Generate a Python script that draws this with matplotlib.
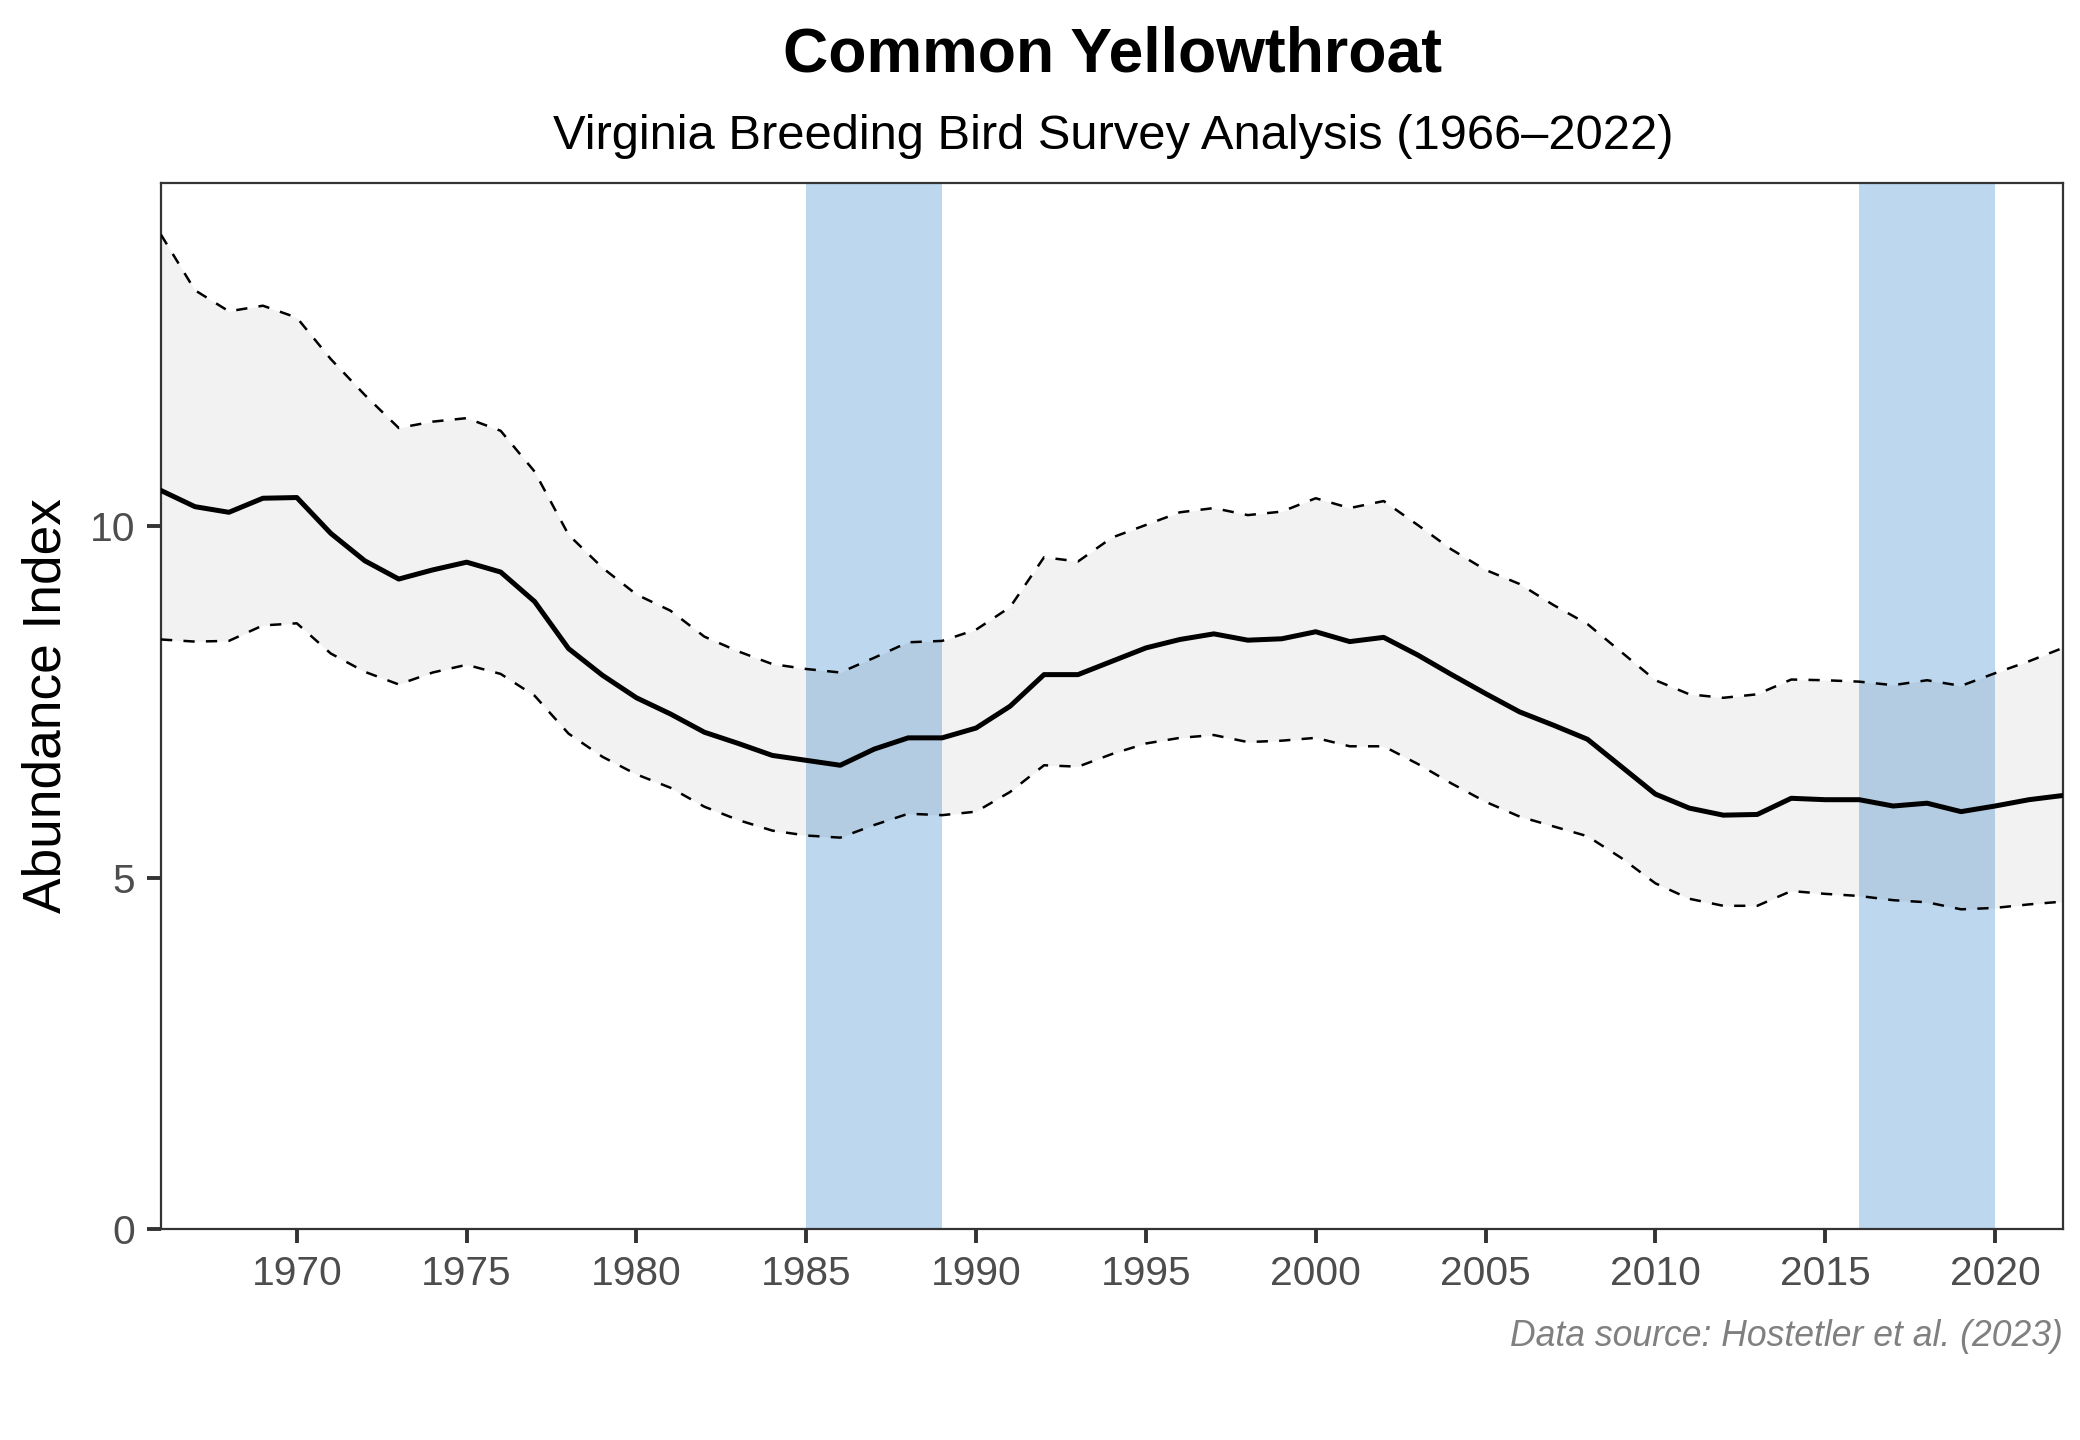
import numpy as np
import matplotlib
matplotlib.use("Agg")
from matplotlib import pyplot as plt

plt.rcParams['font.family'] = ['Liberation Sans', 'DejaVu Sans']

years = np.arange(1966, 2023)

# trend index
index = [10.51, 10.28, 10.20, 10.40, 10.41, 9.90, 9.51, 9.25, 9.38, 9.49,
         9.35, 8.93, 8.26, 7.88, 7.56, 7.33, 7.07, 6.91, 6.74, 6.67,
         6.60, 6.83, 6.99, 6.99, 7.13, 7.44, 7.89, 7.89, 8.08, 8.27,
         8.39, 8.47, 8.38, 8.40, 8.50, 8.36, 8.42, 8.17, 7.89, 7.62,
         7.36, 7.17, 6.97, 6.58, 6.19, 5.99, 5.89, 5.90, 6.13, 6.11,
         6.11, 6.02, 6.06, 5.94, 6.02, 6.11, 6.17]

upper = [14.15, 13.36, 13.06, 13.14, 12.97, 12.38, 11.87, 11.40, 11.49, 11.54,
         11.36, 10.78, 9.88, 9.41, 9.03, 8.80, 8.43, 8.22, 8.04, 7.97,
         7.92, 8.13, 8.35, 8.37, 8.53, 8.85, 9.56, 9.50, 9.84, 10.02,
         10.20, 10.26, 10.16, 10.21, 10.40, 10.26, 10.36, 10.02, 9.67, 9.38,
         9.18, 8.88, 8.61, 8.21, 7.81, 7.61, 7.56, 7.61, 7.82, 7.81,
         7.79, 7.74, 7.81, 7.73, 7.91, 8.08, 8.27]

lower = [8.39, 8.36, 8.37, 8.59, 8.62, 8.19, 7.93, 7.75, 7.92, 8.03,
         7.90, 7.59, 7.05, 6.72, 6.47, 6.28, 6.01, 5.82, 5.67, 5.60,
         5.57, 5.75, 5.91, 5.89, 5.94, 6.22, 6.60, 6.58, 6.76, 6.91,
         6.99, 7.03, 6.93, 6.95, 6.99, 6.87, 6.87, 6.62, 6.34, 6.08,
         5.87, 5.73, 5.59, 5.28, 4.92, 4.70, 4.60, 4.60, 4.81, 4.77,
         4.74, 4.68, 4.65, 4.55, 4.57, 4.62, 4.66]

# shaded periods
periods = [(1985, 1989), (2016, 2020)]

fig = plt.figure(figsize=(10.4, 7.2), dpi=200)
ax = fig.add_axes([0.0774, 0.1465, 0.9144, 0.7264])

for start, end in periods:
    ax.axvspan(start, end, color='#bdd7ee', lw=0, zorder=1)

ax.fill_between(years, lower, upper, color='black', alpha=0.05, lw=0, zorder=2)
ax.plot(years, upper, color='black', lw=0.9, ls=(0, (4.5, 4.5)), zorder=3)
ax.plot(years, lower, color='black', lw=0.9, ls=(0, (4.5, 4.5)), zorder=3)
ax.plot(years, index, color='black', lw=1.8, zorder=4)

ax.set_xlim(1966, 2022)
ax.set_ylim(0, max(upper) * 1.052)
ax.set_xticks(np.arange(1970, 2021, 5))
ax.set_yticks([0, 5, 10])

for s in ax.spines.values():
    s.set_color('#333333')
    s.set_linewidth(0.8)
ax.tick_params(axis='both', direction='out', length=5, width=1.4,
               color='#333333', labelcolor='#4d4d4d', labelsize=14.7, pad=4.3)

ax.set_ylabel('Abundance Index', fontsize=19.2)
ax.yaxis.set_label_coords(-0.047, 0.5)

fig.text(0.535, 0.962, 'Common Yellowthroat', ha='center', va='center',
         fontsize=22.5, fontweight='bold')
fig.text(0.535, 0.905, 'Virginia Breeding Bird Survey Analysis (1966\u20132022)',
         ha='center', va='center', fontsize=17.6)
fig.text(0.9918, 0.0722, 'Data source: Hostetler et al. (2023)', ha='right',
         va='center', fontsize=12.8, style='italic', color='#808080')

fig.savefig('out.png', dpi=200)
